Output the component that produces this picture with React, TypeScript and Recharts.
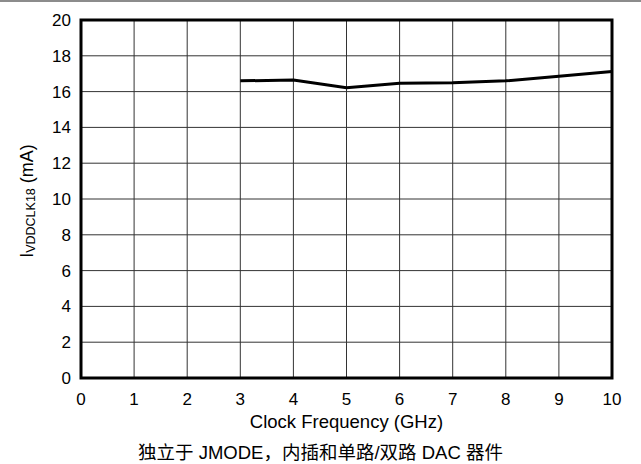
import React from "react";
import {
  LineChart,
  Line,
  XAxis,
  YAxis,
  CartesianGrid,
  ReferenceArea,
} from "recharts";

// clock frequency (GHz) and supply current (mA)
const freqGHz = [3, 4, 5, 6, 7, 8, 9, 10];
const currentMA = [16.6, 16.65, 16.22, 16.47, 16.5, 16.6, 16.86, 17.12];

const xTicks = [0, 1, 2, 3, 4, 5, 6, 7, 8, 9, 10];
const yTicks = [0, 2, 4, 6, 8, 10, 12, 14, 16, 18, 20];

const FONT = "'Liberation Sans', Arial, 'Noto Sans CJK SC', sans-serif";

const chartData = freqGHz.map((f, i) => ({ freq: f, current: currentMA[i] }));

function YLabel(props: any) {
  const vb = props.viewBox || {};
  const cx = 27;
  const cy = vb.y + vb.height / 2 + 2;
  return (
    <text
      x={cx}
      y={cy}
      transform={`rotate(-90, ${cx}, ${cy})`}
      textAnchor="middle"
      dominantBaseline="central"
      fontSize={18}
      fill="#000"
      fontFamily={FONT}
    >
      <tspan>I</tspan>
      <tspan fontSize={12.5} dy={4}>VDDCLK18</tspan>
      <tspan dy={-4}> (mA)</tspan>
    </text>
  );
}

export default function App(): React.ReactElement {
  return (
    <div
      style={{
        position: "absolute",
        left: 0,
        top: 0,
        width: 641,
        height: 464,
        background: "#fff",
        fontFamily: FONT,
      }}
    >
      <div
        style={{
          position: "absolute",
          left: 0,
          top: 0,
          width: 641,
          height: 2,
          background: "#8c8c8c",
        }}
      />
      <LineChart
        width={641}
        height={464}
        data={chartData}
        margin={{ top: 20, right: 29, bottom: 0, left: 0 }}
        style={{ fontFamily: FONT }}
      >
        <CartesianGrid stroke="#333" strokeWidth={1} />
        <XAxis
          dataKey="freq"
          type="number"
          domain={[0, 10]}
          ticks={xTicks}
          interval={0}
          height={86}
          axisLine={false}
          tickLine={false}
          tickSize={0}
          tickMargin={15}
          tick={{ fill: "#000", fontSize: 17 }}
          label={{
            value: "Clock Frequency (GHz)",
            position: "insideTop",
            offset: 37,
            fill: "#000",
            fontSize: 18.5,
          }}
        />
        <YAxis
          type="number"
          domain={[0, 20]}
          ticks={yTicks}
          interval={0}
          width={81}
          axisLine={false}
          tickLine={false}
          tickSize={0}
          tickMargin={10}
          tick={{ fill: "#000", fontSize: 17 }}
          label={<YLabel />}
        />
        <ReferenceArea
          x1={0}
          x2={10}
          y1={0}
          y2={20}
          fill="none"
          fillOpacity={0}
          stroke="#000"
          strokeWidth={3}
        />
        <Line
          type="linear"
          dataKey="current"
          stroke="#000"
          strokeWidth={3}
          dot={false}
          isAnimationActive={false}
        />
      </LineChart>
      <div
        style={{
          position: "absolute",
          left: 0,
          top: 443,
          width: 641,
          textAlign: "center",
          fontSize: 18.5,
          lineHeight: "20px",
          color: "#000",
          whiteSpace: "nowrap",
        }}
      >
        独立于 JMODE，内插和单路/双路 DAC 器件
      </div>
    </div>
  );
}
